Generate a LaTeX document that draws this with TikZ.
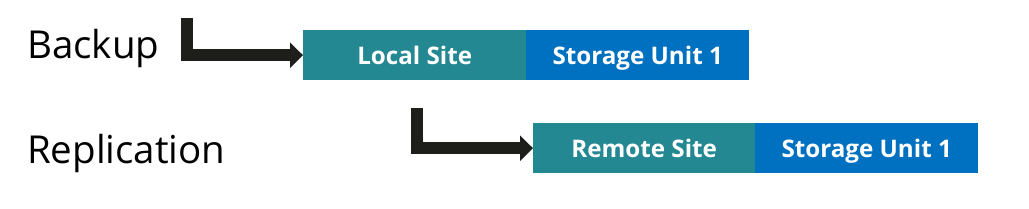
\documentclass[tikz,border=0pt]{standalone}
\usepackage{fontspec}
\setmainfont{Open Sans}
\usetikzlibrary{arrows.meta}
\definecolor{teal1}{HTML}{238891}
\definecolor{blue1}{HTML}{0070C0}
\definecolor{arrowc}{HTML}{1E1E1A}
\tikzset{
  box/.style={minimum height=50pt, inner sep=0pt, text height=20.5pt, text depth=1.5pt, text=white, font=\fontsize{24.2}{26}\selectfont\bfseries, anchor=north west},
  lbl/.style={font=\fontsize{38.5}{42}\selectfont, anchor=base west, inner sep=0pt},
  bigarrow/.style={draw=arrowc, line width=12pt, -{Triangle[length=13pt,width=25pt]}},
}
\begin{document}
\begin{tikzpicture}[x=1pt,y=-1pt]
\useasboundingbox (0,0) rectangle (1029,209);
\node[lbl] (backup) at (27,58) {Backup};
\node[lbl] (repl) at (27,163) {Replication};
\node[box, fill=teal1, minimum width=223pt] (local) at (303,30) {Local Site};
\node[box, fill=blue1, minimum width=223pt] (su1) at (526,30) {Storage Unit 1};
\node[box, fill=teal1, minimum width=222pt] (remote) at (533,123) {Remote Site};
\node[box, fill=blue1, minimum width=223pt] (su2) at (755,123) {Storage Unit 1};
\coordinate (a1) at (187,18);
\coordinate (a2) at (417,108);
\draw[bigarrow] (a1) |- (local.west);
\draw[bigarrow] (a2) |- (remote.west);
\end{tikzpicture}
\end{document}
